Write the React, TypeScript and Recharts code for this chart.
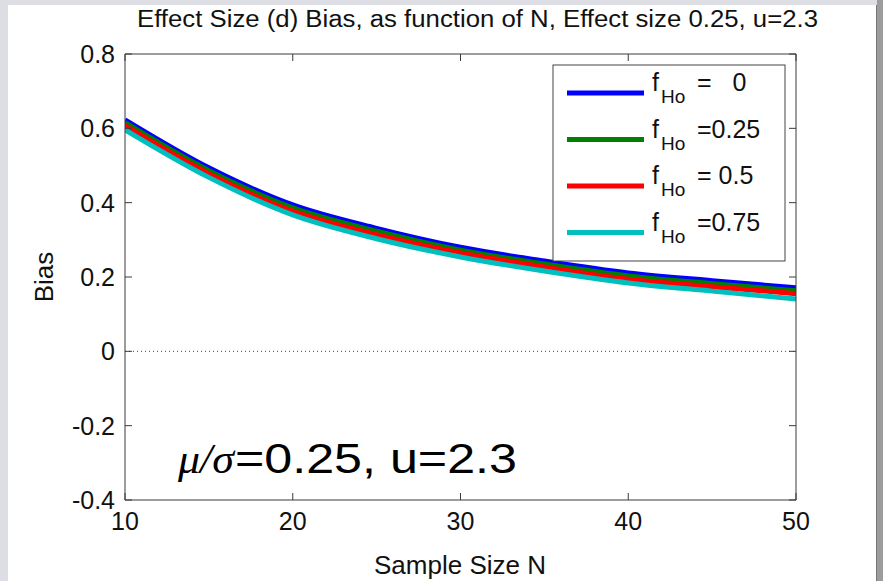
import React from "react";
import { LineChart, Line, XAxis, YAxis, ReferenceLine } from "recharts";

const sampleSizes = [10, 15, 20, 25, 30, 35, 40, 45, 50];
const biasFHo0 = [0.623, 0.494, 0.394, 0.331, 0.28, 0.243, 0.211, 0.19, 0.171];
const biasFHo025 = [0.615, 0.486, 0.386, 0.323, 0.272, 0.235, 0.203, 0.182, 0.163];
const biasFHo05 = [0.607, 0.478, 0.377, 0.314, 0.265, 0.227, 0.194, 0.174, 0.155];
const biasFHo075 = [0.596, 0.468, 0.367, 0.303, 0.254, 0.216, 0.184, 0.162, 0.141];

const seriesKeys = ["f0", "f025", "f05", "f075"];
const seriesColors = ["#0000ff", "#008000", "#ff0000", "#00bfbf"];
const legendValues = ["=   0", "=0.25", "= 0.5", "=0.75"];

const xTicks = [10, 20, 30, 40, 50];
const yTicks = [-0.4, -0.2, 0, 0.2, 0.4, 0.6, 0.8];

const titleText = "Effect Size (d) Bias, as function of N, Effect size 0.25, u=2.3";
const xLabel = "Sample Size N";
const yLabel = "Bias";

const data = sampleSizes.map((n, i) => ({
  n,
  f0: biasFHo0[i],
  f025: biasFHo025[i],
  f05: biasFHo05[i],
  f075: biasFHo075[i],
}));

const FONT = "'Liberation Sans', Arial, Helvetica, sans-serif";
const AX = "#3a3a3a";
const TICK = 7;

const fmt = (v: number) => (v === 0 ? "0" : String(v));

const BottomTick = (p: any) => (
  <g>
    <line x1={p.x} x2={p.x} y1={p.y} y2={p.y - TICK} stroke={AX} />
    <text x={p.x} y={p.y + 30} textAnchor="middle" fontFamily={FONT} fontSize={25} fill="#111">
      {fmt(p.payload.value)}
    </text>
  </g>
);
const TopTick = (p: any) => (
  <line x1={p.x} x2={p.x} y1={p.y} y2={p.y + TICK} stroke={AX} />
);
const LeftTick = (p: any) => (
  <g>
    <line x1={p.x} x2={p.x + TICK} y1={p.y} y2={p.y} stroke={AX} />
    <text x={p.x - 10} y={p.y} dy="0.36em" textAnchor="end" fontFamily={FONT} fontSize={25} fill="#111">
      {fmt(p.payload.value)}
    </text>
  </g>
);
const RightTick = (p: any) => (
  <line x1={p.x} x2={p.x - TICK} y1={p.y} y2={p.y} stroke={AX} />
);

export default function App() {
  return (
    <div
      style={{
        position: "fixed",
        left: 0,
        top: 0,
        width: 883,
        height: 581,
        background: "#dcdee4",
        overflow: "hidden",
      }}
    >
      <div
        style={{
          position: "absolute",
          left: 8,
          top: 5,
          width: 868,
          height: 576,
          background: "#ffffff",
          borderRight: "1px solid #777",
        }}
      />
      <div style={{ position: "absolute", left: 877, top: 0, width: 6, height: 581, background: "#9c9c9c" }} />
      <div style={{ position: "absolute", left: 0, top: 0 }}>
        <LineChart width={883} height={581} data={data} margin={{ top: 53, right: 86, bottom: 51, left: 65 }}>
          <XAxis
            dataKey="n"
            type="number"
            domain={[10, 50]}
            ticks={xTicks}
            height={30}
            tickSize={0}
            tickMargin={0}
            tickLine={false}
            axisLine={{ stroke: AX }}
            tick={BottomTick}
            interval={0}
            allowDataOverflow
          />
          <XAxis
            xAxisId="top"
            orientation="top"
            dataKey="n"
            type="number"
            domain={[10, 50]}
            ticks={xTicks}
            height={1}
            tickSize={0}
            tickMargin={0}
            tickLine={false}
            axisLine={{ stroke: AX }}
            tick={TopTick}
            interval={0}
            allowDataOverflow
          />
          <YAxis
            type="number"
            domain={[-0.4, 0.8]}
            ticks={yTicks}
            width={60}
            tickSize={0}
            tickMargin={0}
            tickLine={false}
            axisLine={{ stroke: AX }}
            tick={LeftTick}
            interval={0}
            allowDataOverflow
          />
          <YAxis
            yAxisId="right"
            orientation="right"
            type="number"
            domain={[-0.4, 0.8]}
            ticks={yTicks}
            width={1}
            tickSize={0}
            tickMargin={0}
            tickLine={false}
            axisLine={{ stroke: AX }}
            tick={RightTick}
            interval={0}
            allowDataOverflow
          />
          <ReferenceLine y={0} stroke="#444" strokeDasharray="1 3" strokeWidth={1} />
          {seriesKeys.map((k, i) => (
            <Line
              key={k}
              dataKey={k}
              type="monotone"
              stroke={seriesColors[i]}
              strokeWidth={5}
              dot={false}
              activeDot={false}
              isAnimationActive={false}
            />
          ))}
        </LineChart>
      </div>
      <svg
        width={883}
        height={581}
        style={{ position: "absolute", left: 0, top: 0, pointerEvents: "none" }}
      >
        <text x={137} y={27} fontFamily={FONT} fontSize={23} fill="#111" textLength={681} lengthAdjust="spacingAndGlyphs">
          {titleText}
        </text>
        <text x={460} y={574} textAnchor="middle" fontFamily={FONT} fontSize={26} fill="#111">
          {xLabel}
        </text>
        <text
          x={53}
          y={277}
          textAnchor="middle"
          fontFamily={FONT}
          fontSize={26}
          fill="#111"
          transform="rotate(-90 53 277)"
        >
          {yLabel}
        </text>
        <text y={473} fontSize={43} fill="#000">
          <tspan
            x={178}
            fontFamily="'Liberation Serif', 'DejaVu Serif', serif"
            fontStyle="italic"
            textLength={56}
            lengthAdjust="spacingAndGlyphs"
          >
            μ/σ
          </tspan>
          <tspan x={235} fontFamily={FONT} textLength={282} lengthAdjust="spacingAndGlyphs">
            =0.25, u=2.3
          </tspan>
        </text>
        <rect x={553} y={65} width={232} height={196} fill="#fff" stroke="#444" strokeWidth={1} />
        {legendValues.map((v, i) => {
          const y = 93 + i * 46.5;
          return (
            <g key={v}>
              <line x1={567} x2={644} y1={y} y2={y} stroke={seriesColors[i]} strokeWidth={5} />
              <text x={652} y={y - 2} fontFamily={FONT} fontSize={25} fill="#111">
                f
              </text>
              <text x={661} y={y + 10} fontFamily={FONT} fontSize={19} fill="#111">
                Ho
              </text>
              <text x={697} y={y - 2} fontFamily={FONT} fontSize={25} fill="#111" xmlSpace="preserve">
                {v}
              </text>
            </g>
          );
        })}
      </svg>
    </div>
  );
}
